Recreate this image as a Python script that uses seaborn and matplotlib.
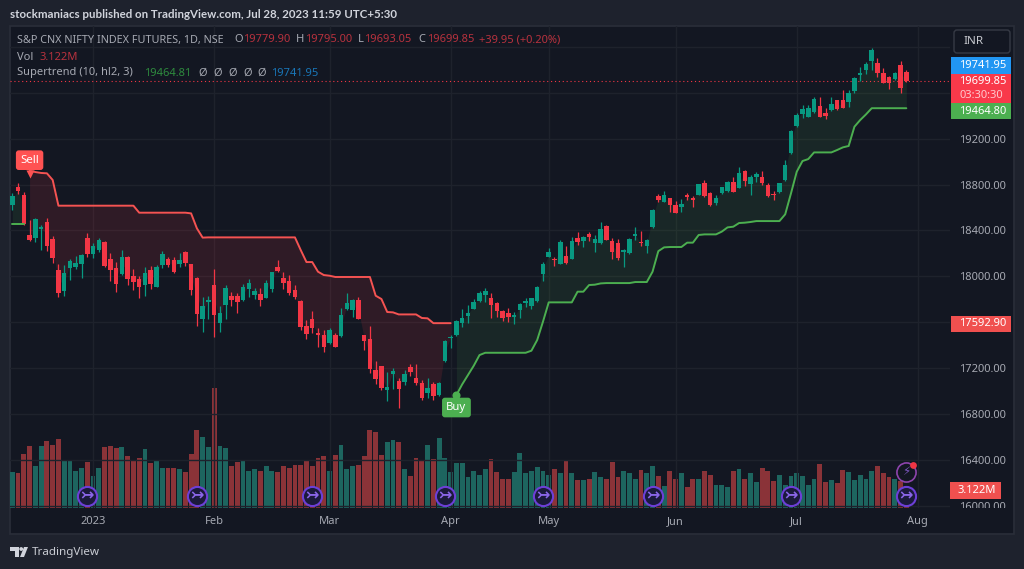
import numpy as np, pandas as pd
import matplotlib
matplotlib.use("Agg")
import matplotlib.pyplot as plt
import seaborn as sns
from matplotlib.transforms import Affine2D, Bbox
from matplotlib.patches import Rectangle, FancyBboxPatch, Polygon, Circle

opens = [18622,18776,18709,18361,18332,18413,18471,18323,18053,17873,
18070,18085,18111,18338,18195,18230,18297,18152,18070,18018,
18172,18001,17975,17925,18053,17911,18102,18152,18143,18108,
18213,18111,17986,17632,17777,17925,17591,17751,17832,17832,
17791,17893,17841,17847,17815,17890,18085,17983,17957,17881,
17788,17571,17629,17501,17487,17420,17487,17481,17716,17707,
17791,17487,17455,17185,17219,17008,17153,17092,17077,17211,
17118,17074,16981,17060,16967,17263,17460,17487,17591,17658,
17716,17788,17838,17814,17771,17698,17678,17646,17707,17771,
17742,17785,18020,18171,18151,18110,18177,18151,18334,18311,
18372,18288,18288,18439,18311,18288,18212,18203,18354,18296,
18264,18433,18700,18651,18680,18622,18607,18703,18677,18709,
18811,18723,18639,18723,18741,18819,18770,18918,18808,18866,
18869,18793,18715,18732,18840,19072,19313,19411,19388,19435,
19481,19420,19449,19533,19536,19516,19615,19754,19795,19879,
19861,19774,19739,19716,19844,19779.90]
closes = [18703,18741,18457,18320,18497,18422,18262,18163,17853,18027,
18134,18117,18187,18195,18268,18314,18094,18053,17934,18169,
17978,17951,17911,18027,17934,18085,18195,18102,18041,18143,
18117,17885,17676,17742,17798,17667,17681,17899,17795,17777,
17908,17939,17876,17791,17942,18035,18050,17945,17852,17823,
17556,17498,17550,17492,17385,17530,17385,17661,17771,17791,
17632,17440,17196,17109,17025,17039,17176,17019,17150,17167,
17074,16941,17031,16961,17074,17437,17472,17611,17638,17681,
17780,17858,17872,17751,17698,17640,17649,17655,17756,17780,
17809,17907,18110,18209,18140,18296,18116,18311,18296,18346,
18346,18328,18412,18320,18215,18160,18224,18328,18363,18288,
18320,18575,18665,18709,18625,18555,18631,18692,18668,18802,
18700,18622,18683,18776,18819,18735,18900,18834,18869,18892,
18816,18703,18706,18811,18967,19266,19406,19458,19464,19545,
19391,19400,19501,19455,19467,19600,19725,19769,19853,19972,
19769,19687,19687,19774,19644,19699.85]
highs = [18724,18811,18738,18491,18512,18448,18512,18352,18108,18099,
18149,18178,18195,18375,18288,18332,18306,18207,18128,18230,
18178,18062,18004,18085,18091,18099,18221,18172,18166,18201,
18221,18111,17998,17824,17832,18062,17742,17925,17867,17853,
17931,17974,17896,17896,17968,18041,18143,18041,18012,17925,
17794,17620,17698,17548,17533,17548,17510,17722,17858,17800,
17818,17487,17571,17263,17219,17170,17199,17112,17185,17234,
17234,17098,17118,17083,17083,17446,17489,17620,17713,17751,
17800,17875,17896,17852,17780,17707,17721,17687,17765,17814,
17814,17916,18128,18244,18171,18317,18264,18346,18383,18351,
18389,18360,18470,18444,18331,18322,18235,18337,18427,18395,
18328,18584,18718,18744,18686,18657,18674,18729,18703,18805,
18840,18738,18709,18782,18834,18869,18956,18927,18883,18909,
18921,18811,18744,18816,19014,19275,19420,19493,19493,19560,
19565,19464,19565,19539,19623,19623,19739,19821,19864,19986,
19899,19812,19745,19783,19876,19795.00]
lows = [18578,18718,18448,18311,18303,18230,18224,18114,17824,17832,
17969,18068,17983,18172,18163,18216,18079,17960,17867,18012,
17925,17882,17815,17832,17888,17911,18070,18079,18033,18085,
18094,17838,17571,17519,17632,17470,17519,17629,17742,17679,
17786,17817,17800,17742,17809,17867,18041,17890,17835,17800,
17533,17455,17504,17388,17344,17411,17382,17475,17707,17643,
17626,17359,17156,17063,17010,16918,17016,16857,17054,17135,
17054,16923,16938,16923,16961,17257,17373,17481,17556,17591,
17716,17774,17780,17640,17649,17614,17605,17582,17634,17730,
17716,17780,17960,18166,18093,18108,18110,18148,18273,18253,
18311,18209,18285,18317,18151,18142,18084,18198,18317,18267,
18203,18418,18648,18645,18564,18549,18558,18665,18607,18706,
18689,18616,18622,18718,18738,18732,18767,18790,18709,18825,
18796,18689,18665,18729,18834,19066,19304,19377,19388,19426,
19385,19371,19443,19449,19464,19472,19600,19705,19763,19798,
19739,19687,19632,19710,19600,19693.05]
volumes = [6.3,6.0,9.4,10.8,7.3,10.8,11.7,11.0,12.0,8.4,
8.2,6.5,7.0,8.0,5.5,6.9,10.5,10.8,10.4,10.5,
9.0,8.2,8.7,10.2,7.8,8.4,7.0,6.9,6.9,6.7,
6.3,9.4,13.5,12.4,10.5,20.9,10.8,10.4,7.2,8.0,
8.2,6.5,6.7,6.5,7.2,6.5,6.2,7.3,7.0,7.5,
7.5,8.4,7.3,8.7,9.0,6.5,9.2,11.0,6.8,7.3,
7.5,9.0,13.5,13.2,9.2,11.5,11.8,11.5,6.8,5.5,
8.7,8.2,10.9,8.5,12.2,8.7,6.2,7.8,7.8,5.3,
6.4,5.8,6.8,8.5,6.2,5.1,5.1,6.2,9.5,6.0,
6.5,7.1,6.4,5.8,6.8,6.0,8.3,6.0,4.8,4.8,
5.1,6.2,5.3,5.0,8.0,5.3,6.5,6.0,5.0,6.6,
6.0,7.2,5.5,3.8,6.5,5.1,6.0,3.7,5.1,5.0,
6.4,5.7,4.0,4.0,3.6,6.5,6.8,5.1,6.0,4.5,
7.0,6.5,4.7,5.7,4.0,5.5,6.0,5.5,4.0,5.1,
7.7,4.5,4.9,4.3,6.6,6.2,4.9,5.7,5.0,6.5,
7.3,6.0,5.3,5.1,4.7,3.122]
st_green_first = [18457,18457,18457]
st_red = [18921,18909,18901,18898,18840,18616,18616,18616,18616,18616,18616,18616,18616,18616,18616,18616,18616,18616,18616,
18555,18555,18555,18555,18555,18555,18555,18555,18555,18549,18419,18338,
18340,18340,18340,18340,18340,18340,18340,18340,18340,18340,18340,18340,18340,18340,18340,18340,
18230,18125,18125,18041,18012,18006,17995,17995,17995,17995,17995,17995,17995,
17832,17803,17690,17687,17669,17669,17669,17669,17638,17635,17592.9,17592.9,17592.9,17592.9]
st_green = [16967,17060,17141,17222,17315,17335,17335,17335,17335,17335,17335,17335,17335,17353,17446,17605,17774,
17774,17774,17774,17774,17867,17867,17925,17928,17939,17942,17942,17942,17942,17942,17951,17951,17951,18041,18220,18253,
18256,18256,18256,18294,18294,18361,18366,18366,18366,18390,18427,18433,18465,18468,18474,18482,18482,18482,18482,18482,
18541,18723,18912,19005,19022,19080,19080,19080,19080,19101,19124,19136,19304,19362,19411,19465,19465,19465,19465,19465,19465,19464.8]
price_ticks = [16000,16400,16800,17200,18000,18400,18800,19200]
grid_prices = [16000,16400,16800,17200,17600,18000,18400,18800,19200,19600,20000]
month_bars = [14,35,55,76,93,115,136,157]
month_labels = ["2023","Feb","Mar","Apr","May","Jun","Jul","Aug"]
event_bars = [13,32,52,75,92,111,135,155]

BG, PANE, GRID = "#1e222d", "#131722", "#1e222c"
UP, DN = "#089981", "#f23645"
VUP, VDN = "#1d655f", "#8a3338"
LRED, LGRN = "#f55352", "#4caf50"
GREY = "#a6a9b2"
sns.set_theme(style="dark", rc={"figure.facecolor": BG, "axes.facecolor": PANE})
plt.rcParams["font.family"] = ["Noto Sans", "DejaVu Sans"]

fig = plt.figure(figsize=(10.24, 5.69), dpi=100)
tp = Affine2D().scale(1, -1).translate(0, 569)
def rect_px(l, t, r, b):
    return [l/1024, 1-b/569, (r-l)/1024, (b-t)/569]

fig.add_artist(Rectangle((10, 26), 1004, 508, transform=tp, fc=PANE, ec="#2a2e39", lw=1.2))

ax_vol = fig.add_axes(rect_px(10, 26, 950, 508), zorder=1)
ax = fig.add_axes(rect_px(10, 26, 950, 508), zorder=2)
ax_vol.patch.set_alpha(0); ax.patch.set_alpha(0)

o, h, l, c = map(np.array, (opens, highs, lows, closes))
idx = np.arange(len(o))
up = c >= o
df = pd.DataFrame({"bar": idx, "vol": volumes, "dir": np.where(up, "up", "down")})
sns.barplot(data=df, x="bar", y="vol", hue="dir", palette={"up": VUP, "down": VDN}, native_scale=True,
            dodge=False, width=0.84, saturation=1, legend=False, ax=ax_vol, linewidth=0, edgecolor="none")
ax_vol.set_xlim(-0.399, 162.57); ax_vol.set_ylim(0, 83.6)
ax_vol.axis("off")

# grid
for p in grid_prices:
    ax.axhline(p, color=GRID, lw=1, zorder=0)
for b in month_bars:
    ax.axvline(b, color=GRID, lw=1, zorder=0)

mid = (o + c) / 2
# supertrend shading
r_idx = idx[3:3+len(st_red)]
g0_idx = idx[:3]
g_idx = idx[77:77+len(st_green)]
ax.fill_between(r_idx, st_red, mid[r_idx], color="#f23645", alpha=0.13, lw=0, zorder=1)
ax.fill_between(g_idx, st_green, mid[g_idx], color="#4caf50", alpha=0.11, lw=0, zorder=1)
ax.fill_between(g0_idx, st_green_first, mid[g0_idx], color="#4caf50", alpha=0.11, lw=0, zorder=1)

# candles
cols = np.where(up, UP, DN)
ax.vlines(idx, l, h, colors=cols, lw=0.9, zorder=3)
ax.bar(idx, np.maximum(np.abs(c-o), 15), bottom=np.minimum(o, c), width=0.78, color=cols, lw=0, zorder=4)

# supertrend lines
sns.lineplot(x=r_idx, y=st_red, color=LRED, lw=1.4, ax=ax, zorder=5, estimator=None)
sns.lineplot(x=g_idx, y=st_green, color=LGRN, lw=1.4, ax=ax, zorder=5, estimator=None)
sns.lineplot(x=g0_idx, y=st_green_first, color=LGRN, lw=1.4, ax=ax, zorder=5, estimator=None)

ax.axhline(closes[-1], color="#f23645", lw=0.8, ls=(0, (1, 2.5)), zorder=2)

ax.set_xlim(-0.399, 162.57); ax.set_ylim(15983, 20181)
ax.yaxis.tick_right()
ax.set_yticks(price_ticks, [f"{p:.2f}" for p in price_ticks])
ax.set_xticks(month_bars, month_labels)
ax.tick_params(axis="y", length=0, pad=6.5, labelsize=8, labelcolor=GREY)
ax.tick_params(axis="x", length=0, pad=5.5, labelsize=8, labelcolor=GREY)
ax.set_xlabel(""); ax.set_ylabel("")
for s in ax.spines.values(): s.set_visible(False)
ax.grid(False)
for t in ax.get_yticklabels():
    if t.get_text() == "16000.00":
        t.set_clip_box(Bbox([[950, 61], [1014, 569]])); t.set_clip_on(True)

# sell / buy signals
ax.scatter([3], [18895], marker="v", s=34, color="#ff5252", zorder=7, lw=0)
ax.annotate("Sell", (3, 18921), xytext=(0, 10.5), textcoords="offset pixels", ha="center", va="center",
            color="white", fontsize=8.2, fontweight="bold", zorder=8,
            bbox=dict(boxstyle="round,pad=0.38,rounding_size=0.25", fc="#ff5252", ec="none"))
ax.scatter([77], [16967], marker="o", s=34, color=LGRN, zorder=7, lw=0)
ax.annotate("Buy", (77, 16967), xytext=(0, -12.5), textcoords="offset pixels", ha="center", va="center",
            color="white", fontsize=8.2, fontweight="bold", zorder=8,
            bbox=dict(boxstyle="round,pad=0.38,rounding_size=0.25", fc=LGRN, ec="none"))

# event icons
ax.scatter(event_bars, [16087]*len(event_bars), s=190, fc="#1b1a3c", ec="#6c3fd6", lw=1.5, zorder=9)
for b in event_bars:
    ax.text(b, 16087, "\u21a3", color="#8a66e8", fontsize=11.5, ha="center", va="center",
            family="DejaVu Sans", fontweight="bold", zorder=10)
ax.scatter([155], [16299], s=190, fc=PANE, ec="#8e44ad", lw=1.2, zorder=9)
ax.text(155, 16299, "\u26a1", color="#7e57c2", fontsize=8.5, ha="center", va="center", family="DejaVu Sans", zorder=10)
ax.scatter([156.2], [16357], s=24, color="#f23645", lw=0, zorder=10)

# header & legend
def T(x, y, s, color=GREY, size=8, **kw):
    kw.setdefault("va", "center")
    return fig.text(x, y, s, color=color, fontsize=size, transform=tp, zorder=20, **kw)

T(10, 14, "stockmaniacs published on TradingView.com, Jul 28, 2023 11:59 UTC+5:30", color="#d1d4dc", size=8.3, fontweight="bold", family="Lato")
T(17, 40, "S&P CNX NIFTY INDEX FUTURES, 1D, NSE", size=7.8)
RV = "#b8323e"
for x, lab, val in [(234, "O", "19779.90"), (296, "H", "19795.00"), (358, "L", "19693.05"), (418, "C", "19699.85")]:
    T(x, 40, lab, size=8)
    T(x + (9 if lab != "L" else 6), 40, val, color=RV, size=8)
T(479, 40, "+39.95 (+0.20%)", color=RV, size=8)
T(17, 57, "Vol", size=8)
T(40, 57, "3.122M", color=RV, size=8)
T(17, 73, "Supertrend (10, hl2, 3)", size=8)
T(144, 73, "19464.81", color="#2e8b3e", size=8)
for x in (198, 213, 228, 243, 257):
    T(x, 73, "\u00d8", size=8)
T(271, 73, "19741.95", color="#1976b8", size=8)

# price-scale boxes
def box(l, t, r, b, fc):
    fig.add_artist(Rectangle((l, t), r-l, b-t, transform=tp, fc=fc, ec="none", zorder=15))
fig.add_artist(FancyBboxPatch((954, 30), 56, 23, boxstyle="round,pad=0,rounding_size=3", transform=tp,
                              fc=PANE, ec="#363a45", lw=1, zorder=15))
T(963, 42, "INR", color="#c6c8ce", size=8.4)
box(951, 57, 1011, 74, "#2196f3"); T(959, 65.5, "19741.95", color="white", size=8)
box(951, 74, 1011, 103, "#f9394a"); T(959, 82, "19699.85", color="white", size=8); T(959, 95, "03:30:30", color="#ffc9ce", size=8)
box(951, 103, 1011, 119, LGRN); T(959, 111.5, "19464.80", color="white", size=8)
box(951, 316, 1011, 332, "#f0504f"); T(959, 324, "17592.90", color="white", size=8)
box(950, 482, 1001, 499, "#f0504f"); T(958, 490.5, "3.122M", color="white", size=8)

# footer
fig.add_artist(Polygon([(10,547),(19,547),(19,557),(15,557),(15,551),(10,551)], transform=tp, fc="#d1d4dc", ec="none"))
fig.add_artist(Polygon([(24,547),(28,547),(24,557),(20,557)], transform=tp, fc="#d1d4dc", ec="none"))
fig.add_artist(Circle((21.2, 549), 1.9, transform=tp, fc="#d1d4dc", ec="none"))
T(32, 552, "TradingView", color="#c9ccd3", size=8.4)

fig.savefig("out.png", dpi=100, facecolor=BG)
